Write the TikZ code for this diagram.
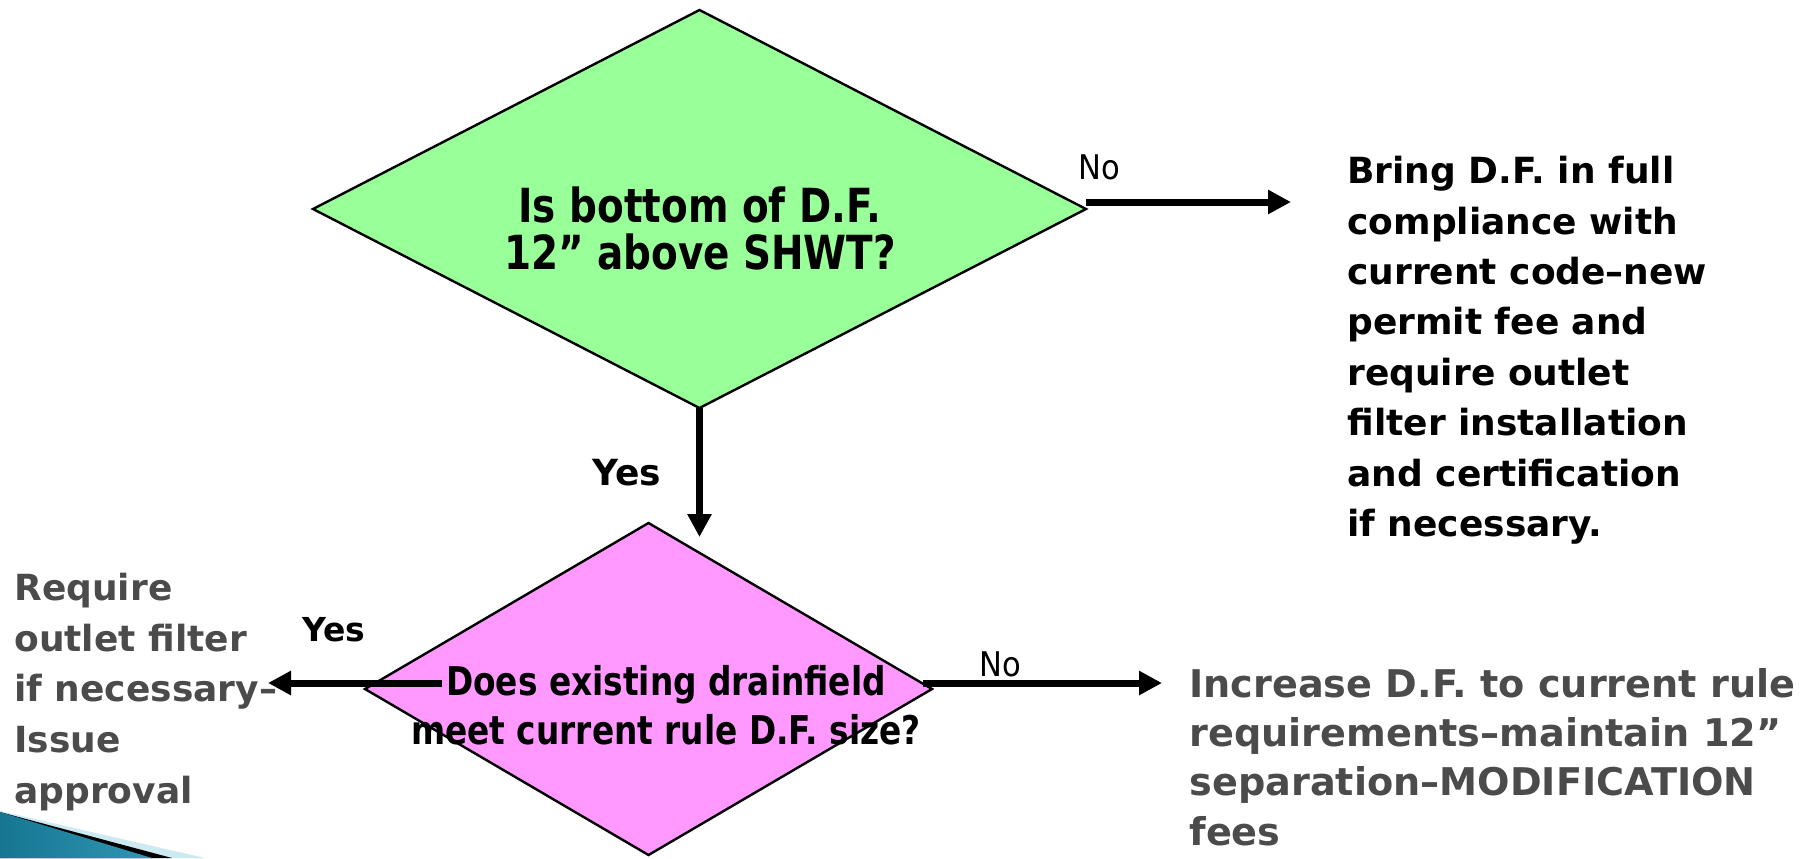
\documentclass[tikz,border=0pt]{standalone}
\usepackage{fontspec}
\setmainfont{DejaVu Sans}
\newfontfamily\condfont[FakeStretch=0.92]{DejaVu Sans Condensed}
\newfontfamily\labelfont{DejaVu Sans Condensed}
\usetikzlibrary{arrows.meta,shapes.geometric}
\definecolor{dfgreen}{RGB}{153,255,153}
\definecolor{dfpink}{RGB}{255,153,255}
\definecolor{txtgray}{RGB}{75,75,75}
\definecolor{cornerteal}{RGB}{22,118,146}
\definecolor{cornerteallight}{RGB}{48,150,180}
\definecolor{cornerlight}{RGB}{205,233,242}
\tikzset{
  decision/.style={shape=diamond, draw=black, line width=1.2pt, inner sep=0pt, outer sep=0pt},
  flowarrow/.style={-{Triangle[length=11.5pt,width=11.5pt]}, line width=3.5pt},
  qtext/.style={align=center, inner sep=0pt},
  lbl/.style={inner sep=0pt},
  bodytext/.style={align=left, anchor=north west, inner sep=0pt},
}
\begin{document}
\begin{tikzpicture}[x=0.5pt,y=-0.5pt]
\useasboundingbox (0,0) rectangle (1810,858);

% decorative corner
\fill[cornerlight] (0,811) -- (205,858) -- (0,858) -- cycle;
\fill[black] (0,812) -- (172,858) -- (0,858) -- cycle;
\shade[left color=cornerteal, right color=cornerteallight] (0,812) -- (152,858) -- (0,858) -- cycle;

% decisions
\node[decision, fill=dfgreen, minimum width=386.5pt, minimum height=199pt] (q1) at (699.5,209) {};
\node[decision, fill=dfpink, minimum width=283.5pt, minimum height=166pt] (q2) at (648.5,689) {};

\node[qtext, font=\condfont\bfseries\fontsize{23.5pt}{23.5pt}\selectfont] (q1t) at (700,228) {Is bottom of D.F.\\12” above SHWT?};
\node[qtext, font=\condfont\bfseries\fontsize{19.8pt}{24.5pt}\selectfont] (q2t) at (666,705) {Does existing drainfield\\meet current rule D.F. size?};

% outcome texts
\node[bodytext, font=\bfseries\fontsize{18pt}{25.2pt}\selectfont] (r1) at (1347,156)
  {Bring D.F. in full\\compliance with\\current code–new\\permit fee and\\require outlet\\filter installation\\and certification\\if necessary.};
\node[bodytext, text=txtgray, font=\bfseries\fontsize{18pt}{25.3pt}\selectfont] (r2) at (14,573)
  {Require\\outlet filter\\if necessary–\\Issue\\approval};
\node[bodytext, text=txtgray, font=\bfseries\fontsize{19.1pt}{24.6pt}\selectfont] (r3) at (1189,668)
  {Increase D.F. to current rule\\requirements–maintain 12”\\separation–MODIFICATION\\fees};

% connector ends
\coordinate (e1) at (1291,202);
\coordinate (e2) at (699.5,537);
\coordinate (s3) at (442,683);
\coordinate (e3) at (268,683);
\coordinate (s4) at (923,683);
\coordinate (e4) at (1162,683);

\draw[flowarrow] (q1.east |- e1) -- (e1);
\draw[flowarrow] (q1.south) -- (e2);
\draw[flowarrow] (s3) -- (e3);
\draw[flowarrow] (s4) -- (e4);

% labels
\node[lbl, font=\labelfont\fontsize{17pt}{17pt}\selectfont] (no1) at (1099,167) {No};
\node[lbl, font=\labelfont\fontsize{17pt}{17pt}\selectfont] (no2) at (1000,664) {No};
\node[lbl, font=\bfseries\fontsize{18pt}{18pt}\selectfont] (yes1) at (627,473) {Yes};
\node[lbl, font=\bfseries\fontsize{16.5pt}{16.5pt}\selectfont] (yes2) at (334,630) {Yes};
\end{tikzpicture}
\end{document}
